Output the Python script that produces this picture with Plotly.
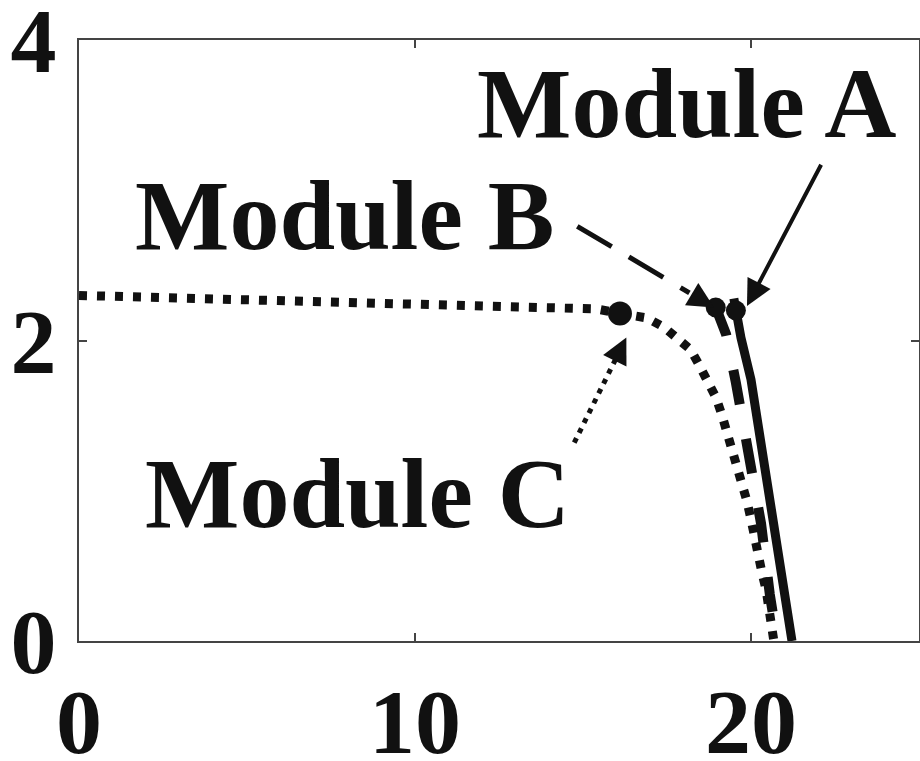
import plotly.graph_objects as go

# ---- data ----
a_v = [19.49, 19.70, 20.00, 20.33, 20.62, 20.92, 21.22]
a_i = [2.28, 2.02, 1.74, 1.29, 0.85, 0.41, 0.00]

b_v = [18.90, 19.26, 19.55, 19.94, 20.30, 20.56, 20.78]
b_i = [2.25, 2.04, 1.72, 1.25, 0.78, 0.31, 0.00]

c_v = [0, 2, 4, 6, 8, 10, 12, 14, 15.4, 16.1, 16.9, 17.4, 17.8, 18.2, 18.45,
       18.75, 18.96, 19.14, 19.29, 19.44, 19.58, 19.73, 19.88, 20.0, 20.09,
       20.24, 20.33, 20.45, 20.53, 20.68]
c_i = [2.30, 2.29, 2.28, 2.27, 2.26, 2.25, 2.24, 2.23, 2.21, 2.18, 2.15, 2.09,
       2.02, 1.94, 1.84, 1.72, 1.62, 1.50, 1.39, 1.27, 1.16, 1.04, 0.93, 0.81,
       0.69, 0.57, 0.45, 0.34, 0.21, 0.0]

mpp_v = [19.55, 18.95, 16.1]
mpp_i = [2.20, 2.22, 2.18]

x_ticks = [0, 10, 20]
y_ticks = [0, 2, 4]

labels = ["Module A", "Module B", "Module C"]
label_x = [18.07, 7.90, 8.29]
label_y = [3.58, 2.83, 0.985]

arrow_tail_x = [22.11, 14.83, 14.74]
arrow_tail_y = [3.18, 2.76, 1.32]
arrow_tip_x = [19.88, 18.90, 16.29]
arrow_tip_y = [2.23, 2.22, 2.02]
arrow_dash = ["solid", "40px,20px", "5px,6px"]

FONT = "Liberation Serif"
INK = "#111111"

fig = go.Figure()
fig.add_trace(go.Scatter(x=c_v, y=c_i, mode="lines",
                         line=dict(color=INK, width=9, dash="8px,10px"),
                         showlegend=False))
fig.add_trace(go.Scatter(x=b_v, y=b_i, mode="lines",
                         line=dict(color=INK, width=10, dash="35px,35px"),
                         showlegend=False))
fig.add_trace(go.Scatter(x=a_v, y=a_i, mode="lines",
                         line=dict(color=INK, width=9),
                         showlegend=False))
fig.add_trace(go.Scatter(x=mpp_v, y=mpp_i, mode="markers",
                         marker=dict(color=INK, size=[20, 20, 24], symbol="circle",
                                     opacity=1, line=dict(width=0)),
                         showlegend=False))

for k in range(3):
    fig.add_annotation(x=label_x[k], y=label_y[k], text="<b>%s</b>" % labels[k],
                       showarrow=False, xanchor="center", yanchor="middle",
                       font=dict(family=FONT, size=100, color=INK))
    tx, ty = arrow_tail_x[k], arrow_tail_y[k]
    hx, hy = arrow_tip_x[k], arrow_tip_y[k]
    if arrow_dash[k] == "solid":
        fig.add_annotation(x=hx, y=hy, ax=tx, ay=ty, xref="x", yref="y",
                           axref="x", ayref="y", text="", showarrow=True,
                           arrowhead=2, arrowsize=1.3, arrowwidth=4, arrowcolor=INK)
    else:
        f = 0.82
        mx, my = tx + (hx - tx) * f, ty + (hy - ty) * f
        fig.add_shape(type="line", x0=tx, y0=ty, x1=mx, y1=my, xref="x", yref="y",
                      line=dict(color=INK, width=5, dash=arrow_dash[k]))
        g = 0.86
        sx, sy = tx + (hx - tx) * g, ty + (hy - ty) * g
        fig.add_annotation(x=hx, y=hy, ax=sx, ay=sy, xref="x", yref="y",
                           axref="x", ayref="y", text="", showarrow=True,
                           arrowhead=2, arrowsize=1.3, arrowwidth=4, arrowcolor=INK)

axis_common = dict(showgrid=False, zeroline=False, showline=True, linecolor="#444444",
                   linewidth=2, mirror="ticks", ticks="inside", ticklen=8,
                   tickcolor="#444444", tickwidth=2, automargin=False,
                   ticklabeloverflow="allow",
                   tickfont=dict(family=FONT, size=92, color=INK, weight="bold"))

fig.update_xaxes(range=[0, 25], tickvals=x_ticks, ticktext=[str(v) for v in x_ticks],
                 ticklabelstandoff=0, **axis_common)
fig.update_yaxes(range=[0, 4], tickvals=y_ticks, ticktext=[str(v) for v in y_ticks],
                 ticklabelstandoff=2, **axis_common)

fig.update_layout(width=920, height=761, margin=dict(l=79, r=1, t=40, b=120),
                  plot_bgcolor="white", paper_bgcolor="white")

fig.write_html("out.html")
